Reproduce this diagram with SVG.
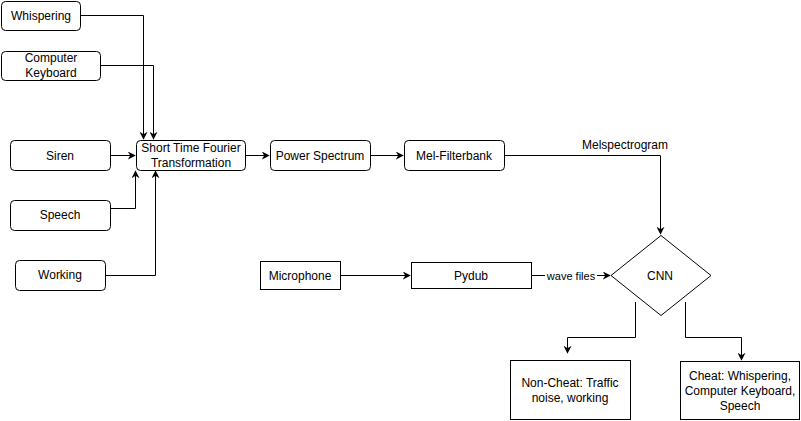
<svg xmlns="http://www.w3.org/2000/svg" width="801" height="421" viewBox="0 0 801 421">
<defs>
<marker id="arr" viewBox="0 0 10 10" refX="9" refY="5" markerWidth="8" markerHeight="8" markerUnits="userSpaceOnUse" orient="auto">
<path d="M0,0 L10,5 L0,10 L3,5 Z" fill="#000"/>
</marker>
<style>
.n{fill:#fff;stroke:#000;stroke-width:1}
.t{font-family:"Liberation Sans",Arial,sans-serif;font-size:12px;fill:#000;text-anchor:middle}
.c{fill:none;stroke:#000;stroke-width:1}
</style>
</defs>
<rect width="801" height="421" fill="#fff"/>
<g id="connectors">
<path class="c" d="M80.5,15.5 H143.5 V139" marker-end="url(#arr)"/>
<path class="c" d="M100.5,65.5 H153.5 V139" marker-end="url(#arr)"/>
<path class="c" d="M110.5,155.5 H135" marker-end="url(#arr)"/>
<path class="c" d="M110.5,208.5 H135.5 V171" marker-end="url(#arr)"/>
<path class="c" d="M105.5,275.5 H155.5 V171" marker-end="url(#arr)"/>
<path class="c" d="M245.5,155.5 H269" marker-end="url(#arr)"/>
<path class="c" d="M370.5,155.5 H403" marker-end="url(#arr)"/>
<path class="c" d="M504.5,155.5 H660.5 V234" marker-end="url(#arr)"/>
<text class="t" x="625" y="149">Melspectrogram</text>
<path class="c" d="M340.5,275.5 H410" marker-end="url(#arr)"/>
<path class="c" d="M531.5,275.5 H610" marker-end="url(#arr)"/>
<rect x="545" y="268" width="52" height="15" fill="#fff"/>
<text class="t" x="571" y="280" style="font-size:11px">wave files</text>
<path class="c" d="M635.5,302 V337.5 H567.5 V353" marker-end="url(#arr)"/>
<path class="c" d="M685.5,302 V337.5 H741.5 V360" marker-end="url(#arr)"/>
</g>
<g id="whispering"><rect class="n" x="1.5" y="1.5" width="79" height="29" rx="4"/><text class="t" x="41" y="20">Whispering</text></g>
<g id="keyboard"><rect class="n" x="1.5" y="51.5" width="99" height="29" rx="4"/><text class="t" x="51" y="62">Computer</text><text class="t" x="51" y="77">Keyboard</text></g>
<g id="siren"><rect class="n" x="10.5" y="140.5" width="100" height="30" rx="4"/><text class="t" x="60" y="160">Siren</text></g>
<g id="speech"><rect class="n" x="10.5" y="200.5" width="100" height="30" rx="4"/><text class="t" x="60" y="219">Speech</text></g>
<g id="working"><rect class="n" x="15.5" y="260.5" width="90" height="30" rx="4"/><text class="t" x="60" y="279">Working</text></g>
<g id="stft"><rect class="n" x="136.5" y="140.5" width="109" height="30" rx="4"/><text class="t" x="191" y="152">Short Time Fourier</text><text class="t" x="191" y="167">Transformation</text></g>
<g id="power"><rect class="n" x="270.5" y="140.5" width="100" height="30" rx="4"/><text class="t" x="320" y="160">Power Spectrum</text></g>
<g id="mel"><rect class="n" x="404.5" y="140.5" width="100" height="30" rx="4"/><text class="t" x="454" y="160">Mel-Filterbank</text></g>
<g id="microphone"><rect class="n" x="260.5" y="261.5" width="80" height="28"/><text class="t" x="300" y="280">Microphone</text></g>
<g id="pydub"><rect class="n" x="411.5" y="262.5" width="120" height="26"/><text class="t" x="471" y="280">Pydub</text></g>
<g id="cnn"><path class="n" d="M661,235.5 L711,275.5 L661,315.5 L611,275.5 Z"/><text class="t" x="660" y="280">CNN</text></g>
<g id="noncheat"><rect class="n" x="510.5" y="360.5" width="120" height="59"/><text class="t" x="570" y="387">Non-Cheat: Traffic</text><text class="t" x="570" y="402">noise, working</text></g>
<g id="cheat"><rect class="n" x="680.5" y="361.5" width="119" height="58"/><text class="t" x="740" y="380">Cheat: Whispering,</text><text class="t" x="740" y="395">Computer Keyboard,</text><text class="t" x="740" y="410">Speech</text></g>
</svg>
